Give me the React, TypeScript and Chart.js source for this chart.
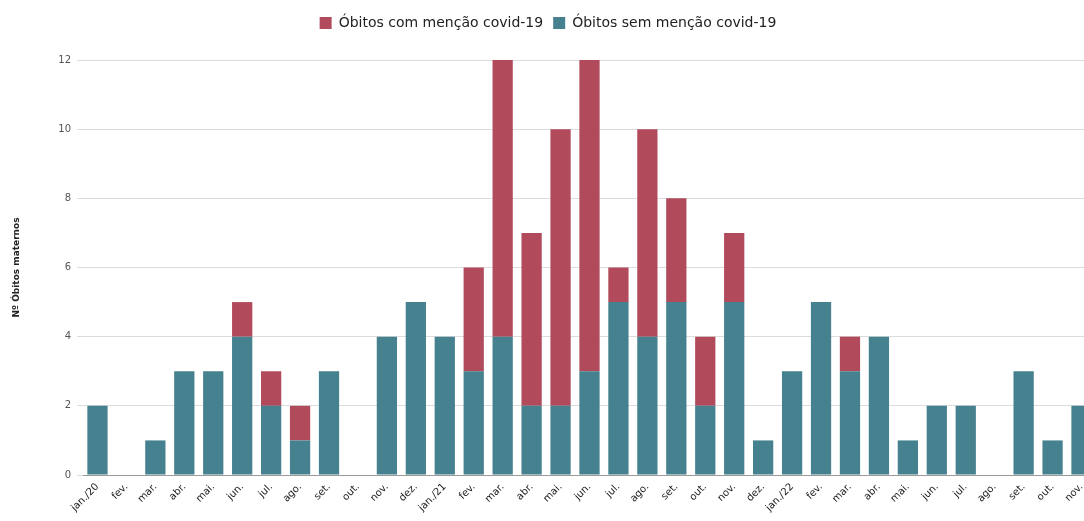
import React, { useEffect, useRef } from "react";
import { Chart, registerables } from "chart.js";

Chart.register(...registerables);

const months: string[] = [
  "jan./20", "fev.", "mar.", "abr.", "mai.", "jun.", "jul.", "ago.", "set.", "out.", "nov.", "dez.",
  "jan./21", "fev.", "mar.", "abr.", "mai.", "jun.", "jul.", "ago.", "set.", "out.", "nov.", "dez.",
  "jan./22", "fev.", "mar.", "abr.", "mai.", "jun.", "jul.", "ago.", "set.", "out.", "nov.",
];

// Deaths without any covid-19 mention (bottom of each stack)
const semCovid: number[] = [
  2, 0, 1, 3, 3, 4, 2, 1, 3, 0, 4, 5,
  4, 3, 4, 2, 2, 3, 5, 4, 5, 2, 5, 1,
  3, 5, 3, 4, 1, 2, 2, 0, 3, 1, 2,
];

// Deaths mentioning covid-19 (stacked on top)
const comCovid: number[] = [
  0, 0, 0, 0, 0, 1, 1, 1, 0, 0, 0, 0,
  0, 3, 8, 5, 8, 9, 1, 6, 3, 2, 2, 0,
  0, 0, 1, 0, 0, 0, 0, 0, 0, 0, 0,
];

const yTicks: number[] = [0, 2, 4, 6, 8, 10, 12];

const TEAL = "#45818e";
const RED = "#b14b5c";
const FONT = "'DejaVu Sans', Verdana, sans-serif";

// Leaves extra room between the legend row and the plot
const legendGap = {
  id: "legendGap",
  beforeInit(chart: any) {
    const legend = chart.legend;
    if (!legend) return;
    const fit = legend.fit.bind(legend);
    legend.fit = function () {
      fit();
      this.height += 20;
    };
  },
};

export default function App() {
  const canvasRef = useRef<HTMLCanvasElement | null>(null);

  useEffect(() => {
    if (!canvasRef.current) return;
    const chart = new Chart(canvasRef.current, {
      type: "bar",
      data: {
        labels: months,
        datasets: [
          {
            label: "Óbitos sem menção covid-19",
            data: semCovid,
            backgroundColor: TEAL,
            borderWidth: 0,
          },
          {
            label: "Óbitos com menção covid-19",
            data: comCovid,
            backgroundColor: RED,
            borderWidth: 0,
          },
        ],
      },
      plugins: [legendGap],
      options: {
        animation: false,
        responsive: false,
        maintainAspectRatio: false,
        layout: { padding: { top: 6, right: 0, bottom: 0, left: 0 } },
        datasets: {
          bar: { categoryPercentage: 1, barPercentage: 0.7 },
        },
        plugins: {
          legend: {
            position: "top",
            reverse: true,
            labels: {
              boxWidth: 12,
              boxHeight: 12,
              padding: 10,
              color: "#222",
              font: { family: FONT, size: 14 },
            },
          },
          tooltip: { enabled: false },
        },
        scales: {
          x: {
            stacked: true,
            grid: { display: false, drawTicks: false },
            border: { display: true, color: "#999", width: 1 },
            ticks: {
              minRotation: 45,
              maxRotation: 45,
              autoSkip: false,
              padding: 6,
              color: "#1a1a1a",
              font: { family: FONT, size: 10 },
            },
            afterFit: (scale: any) => {
              scale.height = 46;
            },
          },
          y: {
            stacked: true,
            min: 0,
            max: 12,
            afterBuildTicks: (scale: any) => {
              scale.ticks = yTicks.map((v) => ({ value: v }));
            },
            grid: {
              color: "#dcdcdc",
              tickLength: 6,
              tickColor: "#dcdcdc",
            },
            border: { display: false },
            ticks: {
              padding: 6,
              color: "#555",
              font: { family: FONT, size: 10 },
            },
            title: {
              display: true,
              text: "Nº Óbitos maternos",
              color: "#222",
              padding: { top: 11, bottom: 0 },
              font: { family: FONT, size: 9, weight: "bold" },
            },
            afterFit: (scale: any) => {
              scale.width = 83;
            },
          },
        },
      },
    });
    return () => chart.destroy();
  }, []);

  return (
    <div style={{ position: "fixed", left: 0, top: 0, width: 1096, height: 521, background: "#fff" }}>
      <canvas ref={canvasRef} width={1096} height={521} />
    </div>
  );
}
